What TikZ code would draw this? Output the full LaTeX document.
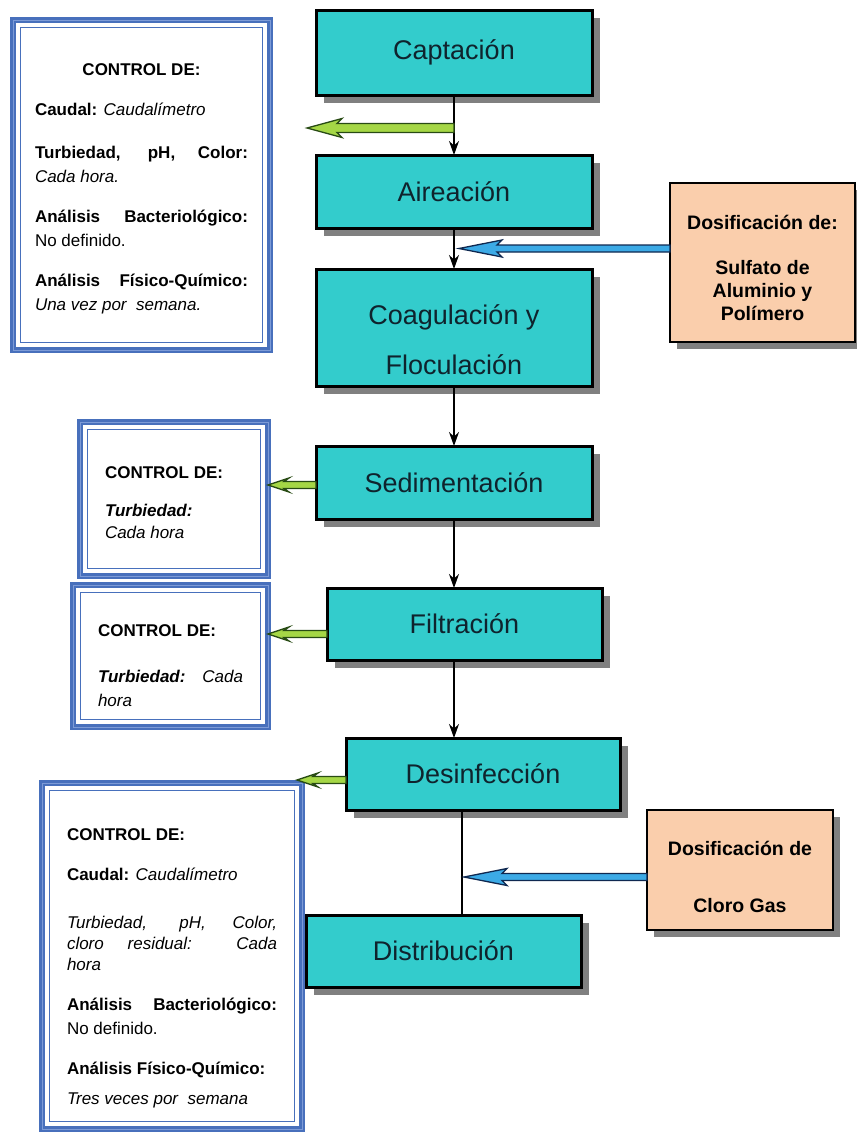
\documentclass[tikz,border=0pt]{standalone}
\usepackage{fontspec}
\setmainfont{Liberation Sans}
\usetikzlibrary{calc,arrows.meta,shadows}
\definecolor{turq}{RGB}{51,204,204}
\definecolor{peach}{RGB}{250,206,172}
\definecolor{shgray}{RGB}{128,128,128}
\definecolor{ctrlblue}{RGB}{72,112,188}
\definecolor{ctrllight}{RGB}{125,155,215}
\definecolor{gfill}{RGB}{165,215,70}
\definecolor{gline}{RGB}{40,75,20}
\definecolor{bfill}{RGB}{60,170,230}
\definecolor{bline}{RGB}{15,40,80}
\definecolor{tdark}{RGB}{15,35,45}
% #1 style, #2 start, #3 tip, #4 head length, #5 head half height, #6 shaft half height
\newcommand\fatarr[6]{%
  \filldraw[#1] ($(#2)+(0,-#6)$) -- ($(#3)+(#4,-#6)$) -- ($(#3)+(#4+5,-#5)$) -- (#3)
    -- ($(#3)+(#4+5,#5)$) -- ($(#3)+(#4,#6)$) -- ($(#2)+(0,#6)$) -- cycle;}
\newcommand\ctrlframe[1]{%
  \draw[ctrllight,line width=1pt] (#1.north west) rectangle (#1.south east);
  \draw[ctrlblue,line width=1.5pt] ([shift={(7.5,7.5)}]#1.north west) rectangle ([shift={(-7.5,-7.5)}]#1.south east);}
\begin{document}
\begin{tikzpicture}[x=1pt,y=-1pt,
  proc/.style={draw=black,line width=3pt,fill=turq,text=tdark,inner sep=0pt,outer sep=0pt,
    minimum width=276pt,general shadow={fill=shgray,shadow xshift=8pt,shadow yshift=-8pt},
    font=\fontsize{27}{50}\selectfont,align=center},
  dosbox/.style={draw=black,line width=2pt,fill=peach,inner sep=0pt,outer sep=0pt,
    general shadow={fill=shgray,shadow xshift=7pt,shadow yshift=-7pt},
    font=\fontsize{19.5}{23}\selectfont\bfseries,align=center},
  ctrl/.style={draw=ctrlblue,line width=5.5pt,fill=white,outer sep=0pt,inner ysep=0pt,
    align=justify,font=\fontsize{17}{24}\selectfont},
  flow/.style={draw=black,line width=1.5pt,-{Stealth[length=14pt,width=10pt]}},
  plainline/.style={draw=black,line width=1.5pt},
  garr/.style={fill=gfill,draw=gline,line width=1.3pt},
  barr/.style={fill=bfill,draw=bline,line width=1.3pt}]
\useasboundingbox (0,0) rectangle (857,1133);

% main process boxes
\node[proc,minimum height=85pt] (capt) at (454,52.5) {Captación};
\node[proc,minimum height=73pt] (aire) at (454,191.5) {Aireación};
\node[proc,minimum height=117pt] (coag) at (454,327.5) {\rule{0pt}{44pt}Coagulación y\\Floculación};
\node[proc,minimum height=73pt] (sed) at (454,482.5) {Sedimentación};
\node[proc,minimum height=72pt,minimum width=275pt] (filt) at (464.5,624) {Filtración};
\node[proc,minimum height=72pt,minimum width=274pt] (desinf) at (483,774) {Desinfección};
\node[proc,minimum height=72pt,minimum width=275pt] (distr) at (443.5,951) {Distribución};

% dosing boxes
\node[dosbox,minimum width=185pt,minimum height=159pt] (dos1) at (762.5,262.5)
  {\rule{0pt}{25pt}Dosificación de:\\[22pt]Sulfato de\\Aluminio y\\Polímero};
\node[dosbox,minimum width=186pt,minimum height=120pt] (cloro) at (740,870)
  {\rule{0pt}{29pt}Dosificación de\\[34pt]Cloro Gas};

% control boxes
\node[ctrl,minimum width=257pt,minimum height=330pt,inner xsep=22pt,text width=213pt] (c1) at (141.5,185)
  {\setlength\parindent{0pt}\setlength\parskip{16pt}%
   \centerline{\rule{0pt}{19pt}\bfseries CONTROL DE:}\par
   \textbf{Caudal:} \textit{Caudalímetro}\par
   \vspace{3pt}\textbf{Turbiedad, pH, Color:}\linebreak \textit{Cada hora.}\par
   \textbf{Análisis Bacteriológico:}\linebreak No definido.\par
   \textbf{Análisis Físico-Químico:}\linebreak \textit{Una vez por\ \ semana.}\par};
\node[ctrl,minimum width=188pt,minimum height=154pt,inner xsep=0pt,text width=138pt] (c2) at (174,499)
  {\setlength\parindent{0pt}\setlength\parskip{14pt}%
   \rule{0pt}{20pt}\textbf{CONTROL DE:}\par
   \textbf{\textit{Turbiedad:}}\\[-2pt] \textit{Cada hora}\par};
\node[ctrl,minimum width=195pt,minimum height=142pt,inner xsep=0pt,text width=145pt] (c3) at (170.5,656)
  {\setlength\parindent{0pt}\setlength\parskip{22pt}%
   \rule{0pt}{32pt}\textbf{CONTROL DE:}\par
   \textbf{\textit{Turbiedad:}} \textit{Cada}\linebreak \textit{hora}\par};
\node[ctrl,minimum width=260pt,minimum height=346pt,inner xsep=0pt,text width=210pt] (c4) at (172,956)
  {\setlength\parindent{0pt}\setlength\parskip{16pt}%
   \rule{0pt}{36pt}\textbf{CONTROL DE:}\par
   \textbf{Caudal:} \textit{Caudalímetro}\par
   \vspace{11pt}{\baselineskip=21pt \textit{Turbiedad, pH, Color,}\linebreak \textit{cloro residual: Cada}\linebreak \textit{hora}\par}
   \textbf{Análisis Bacteriológico:}\linebreak No definido.\par
   \textbf{Análisis Físico-Químico:}\\[6pt] \textit{Tres veces por\ \ semana}\par};
\ctrlframe{c1}
\ctrlframe{c2}
\ctrlframe{c3}
\ctrlframe{c4}

% flow connectors
\draw[flow] (capt) -- (aire);
\draw[flow] (aire) -- (coag);
\draw[flow] (coag) -- (sed);
\draw[flow] (sed.south) -- (sed.south |- filt.north);
\draw[flow] (filt.south -| sed.south) -- (desinf.north -| sed.south);
\coordinate (jx) at (462,0);
\draw[plainline] (desinf.south -| jx) -- (distr.north -| jx);

% green control arrows
\coordinate (g1a) at (454,128);
\coordinate (g1b) at (307,128);
\fatarr{garr}{g1a}{g1b}{30}{9.5}{4.5}
\coordinate (g2a) at ($(sed.west)+(0,2.5)$);
\coordinate (g2b) at (g2a -| c2.east);
\fatarr{garr}{g2a}{g2b}{16}{7}{3.5}
\coordinate (g3a) at ($(filt.west)+(0,10)$);
\coordinate (g3b) at (g3a -| c3.east);
\fatarr{garr}{g3a}{g3b}{16}{7}{3.5}
\coordinate (g4a) at ($(desinf.west)+(0,6)$);
\coordinate (g4b) at ($(g4a)+(-49,0)$);
\fatarr{garr}{g4a}{g4b}{16}{7}{3.5}

% blue dosing arrows
\coordinate (b1a) at ($(dos1.west)+(0,-14)$);
\coordinate (b1c) at (b1a -| capt.south);
\coordinate (b1b) at ($(b1c)+(5,0)$);
\fatarr{barr}{b1a}{b1b}{38}{8.5}{3.5}
\coordinate (b2a) at ($(cloro.west)+(0,7)$);
\coordinate (b2c) at (b2a -| jx);
\coordinate (b2b) at ($(b2c)+(2,0)$);
\fatarr{barr}{b2a}{b2b}{38}{8.5}{3.5}
\end{tikzpicture}
\end{document}
